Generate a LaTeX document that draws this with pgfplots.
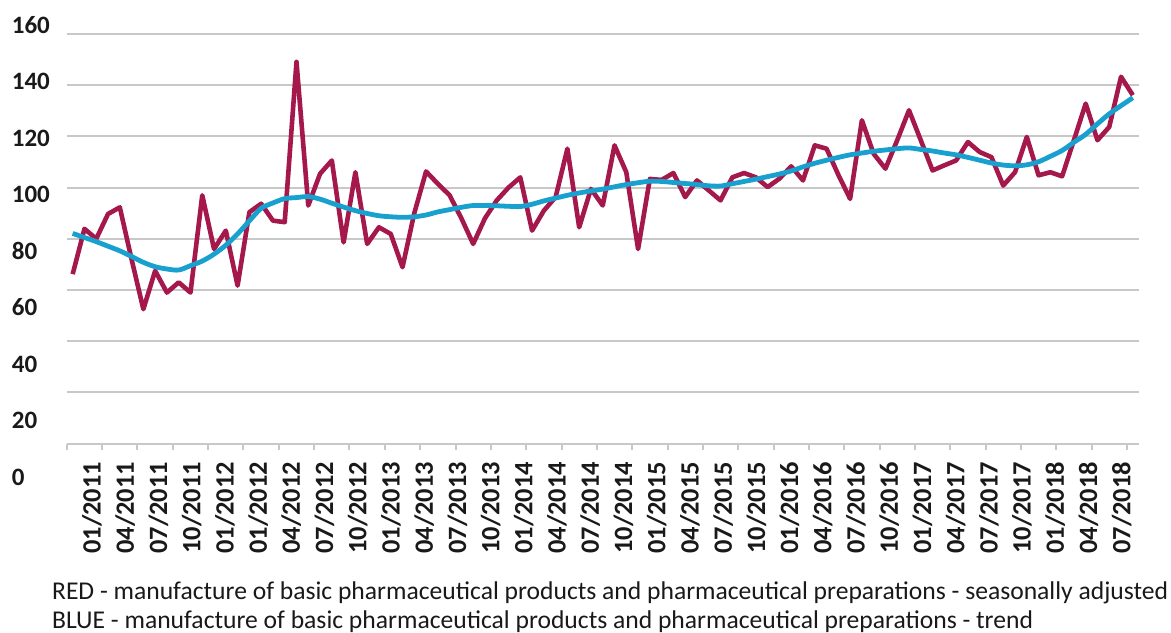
\documentclass[border=0pt]{standalone}
\usepackage{fontspec}
\setmainfont{Carlito}
\usepackage{pgfplots}
\usepackage{pgfplotstable}
\pgfplotsset{compat=1.18}
\definecolor{redline}{RGB}{164,24,76}
\definecolor{blueline}{RGB}{24,160,206}
\definecolor{gridgray}{RGB}{200,200,200}
\definecolor{txt}{RGB}{25,25,25}
\pgfplotstableread{
i red blue
0 66.2 82.1
1 83.9 80.5
2 80.0 78.9
3 89.7 77.1
4 92.3 75.3
5 72.0 73.1
6 52.5 70.8
7 67.5 69.1
8 59.0 68.2
9 63.0 67.8
10 59.0 69.5
11 97.0 71.3
12 76.0 74.0
13 83.2 77.5
14 61.7 81.9
15 90.4 87.0
16 93.7 91.9
17 87.1 94.0
18 86.5 95.7
19 149.1 96.1
20 93.0 96.5
21 105.4 95.5
22 110.6 93.9
23 78.6 92.4
24 106.0 91.0
25 78.0 89.9
26 84.5 89.0
27 81.9 88.6
28 68.9 88.4
29 90.0 88.6
30 106.3 89.3
31 101.5 90.5
32 97.0 91.4
33 88.0 92.3
34 78.0 93.0
35 88.0 93.0
36 95.0 92.9
37 100.0 92.7
38 104.0 92.6
39 83.2 93.5
40 91.0 94.8
41 96.3 95.9
42 115.2 97.0
43 84.5 97.9
44 99.5 98.7
45 93.0 99.4
46 116.5 100.3
47 106.0 101.2
48 76.0 101.9
49 103.4 102.5
50 103.0 102.4
51 105.7 102.0
52 96.3 101.6
53 102.8 101.2
54 98.9 100.7
55 95.0 100.6
56 104.0 101.5
57 105.7 102.4
58 104.0 103.3
59 100.2 104.3
60 103.5 105.3
61 108.3 106.5
62 102.8 108.1
63 116.5 109.5
64 115.2 110.7
65 105.0 111.8
66 95.6 112.8
67 126.3 113.5
68 113.2 114.2
69 107.4 114.7
70 118.5 115.2
71 130.2 115.5
72 118.5 114.9
73 106.7 114.3
74 108.7 113.5
75 110.6 112.8
76 117.8 111.8
77 113.9 110.7
78 111.9 109.6
79 100.8 108.8
80 106.0 108.5
81 119.8 108.9
82 104.8 110.1
83 106.0 112.2
84 104.4 114.5
85 118.5 117.7
86 132.8 120.8
87 118.5 124.9
88 123.7 128.8
89 143.3 132.0
90 136.1 135.1
}\datatable
\begin{document}
\begin{tikzpicture}
\path[use as bounding box] (0,0) rectangle (585.5pt,316pt);
\begin{axis}[
  at={(33.4pt,94.2pt)}, anchor=south west,
  scale only axis, width=535.95pt, height=204.8pt,
  xmin=-0.5, xmax=90.5, ymin=0, ymax=160,
  axis line style={draw=none},
  ytick={0,20,...,160},
  yticklabels={
    \raisebox{-16.7pt}[\height][\depth]{0},
    \raisebox{-14.05pt}[\height][\depth]{20},
    \raisebox{-11.4pt}[\height][\depth]{40},
    \raisebox{-8.75pt}[\height][\depth]{60},
    \raisebox{-6.1pt}[\height][\depth]{80},
    \raisebox{-3.45pt}[\height][\depth]{100},
    \raisebox{-0.8pt}[\height][\depth]{120},
    \raisebox{1.85pt}[\height][\depth]{140},
    \raisebox{4.5pt}[\height][\depth]{160}},
  xtick={1.64,4.46,7.28,10.10,12.92,15.74,18.56,21.38,24.20,27.02,29.84,32.66,35.48,38.30,41.12,43.94,46.76,49.58,52.40,55.22,58.04,60.86,63.68,66.50,69.32,72.14,74.96,77.78,80.60,83.42,86.24,89.06},
  xticklabels={01/2011,04/2011,07/2011,10/2011,01/2012,01/2012,04/2012,07/2012,10/2012,01/2013,04/2013,07/2013,10/2013,01/2014,04/2014,07/2014,10/2014,01/2015,04/2015,07/2015,10/2015,01/2016,04/2016,07/2016,10/2016,01/2017,04/2017,07/2017,10/2017,01/2018,04/2018,07/2018},
  minor xtick={-0.5,2.5,...,89.5},
  xtick pos=lower, ytick pos=left,
  major tick length=0pt, minor tick length=3pt, tick align=outside,
  minor x tick style={draw=gridgray, line width=1pt},
  ymajorgrids, major grid style={draw=gridgray, line width=1pt},
  clip=false,
  yticklabel style={anchor=west, inner sep=0pt, xshift=-27.65pt, text=txt,
    font=\bfseries\fontsize{12.5}{12.5}\selectfont},
  xticklabel style={yshift=-9pt, rotate=90, anchor=east, inner sep=0pt, text=txt,
    font=\bfseries\fontsize{13.2}{13.2}\selectfont},
]
\addplot[redline, line width=2.3pt, line join=round] table[x=i,y=red]{\datatable};
\addplot[blueline, line width=2.4pt, smooth, line join=round] table[x=i,y=blue]{\datatable};
\end{axis}
\node[anchor=base west, inner sep=0pt, text=txt, font=\fontsize{12.8}{14}\selectfont] at (25.85pt,16.35pt) {RED - manufacture of basic pharmaceutical products and pharmaceutical preparations - seasonally adjusted};
\node[anchor=base west, inner sep=0pt, text=txt, font=\fontsize{12.8}{14}\selectfont] at (25.85pt,1.85pt) {BLUE - manufacture of basic pharmaceutical products and pharmaceutical preparations - trend};
\end{tikzpicture}
\end{document}
